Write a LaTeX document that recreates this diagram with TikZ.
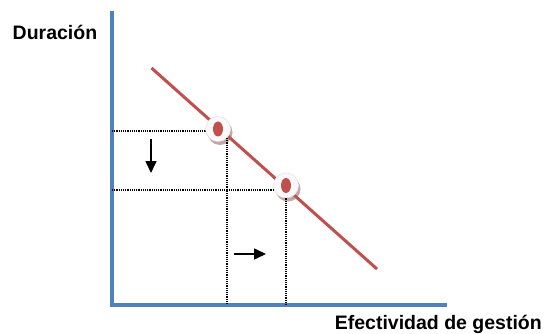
\documentclass[tikz,border=0pt]{standalone}
\usepackage{fontspec}
\setmainfont{Liberation Sans}
\usetikzlibrary{arrows.meta,shapes.geometric,shadows}
\definecolor{axisblue}{HTML}{4F81BD}
\definecolor{linered}{HTML}{C0504D}
\begin{document}
\begin{tikzpicture}[x=1pt, y=-1pt,
    axis/.style={draw=axisblue, line width=4pt},
    trend/.style={draw=linered, line width=3pt},
    guide/.style={densely dotted, line width=1.2pt},
    movearrow/.style={-{Triangle[length=12pt,width=11pt]}, line width=1.6pt},
    marker/.style={circle, fill=gray!5, draw=gray!20, line width=0.6pt,
                   minimum size=25pt, inner sep=0pt,
                   drop shadow={shadow xshift=2pt, shadow yshift=-3.5pt,
                                fill=linered!45!gray, opacity=0.6}},
    dot/.style={ellipse, fill=linered, minimum width=10pt,
                minimum height=15pt, inner sep=0pt},
    lbl/.style={font=\bfseries\fontsize{19.5}{23}\selectfont, inner sep=0pt}
]
\useasboundingbox (0,0) rectangle (546,334);

\coordinate (top)  at (112,11);
\coordinate (org)  at (112,304.5);
\coordinate (xend) at (447,304.5);
\coordinate (ls)   at (151.5,68);
\coordinate (le)   at (377,269);

\draw[axis] (top) -- (org) -- (xend);

\node[lbl, anchor=base west] (ylab) at (12.5,40)   {Duración};
\node[lbl, anchor=base east] (xlab) at (542,329) {Efectividad de gestión};

\draw[guide] (org |- 0,131) -- (206,131);
\draw[guide] (org |- 0,190) -- (276,190);

\draw[trend] (ls) -- (le);

\node[marker] (p1) at (218,129)   {};
\node[marker] (p2) at (286,185.5) {};
\node[dot] at (p1) {};
\node[dot] at (p2) {};

\draw[guide] (p1.south east) -- (p1.south east |- org);
\draw[guide] (p2.south) -- (p2.south |- org);

\coordinate (d1) at (151,139);
\coordinate (d2) at (151,173);
\coordinate (r1) at (234,254);
\coordinate (r2) at (266,254);
\draw[movearrow] (d1) -- (d2);
\draw[movearrow] (r1) -- (r2);

\end{tikzpicture}
\end{document}
